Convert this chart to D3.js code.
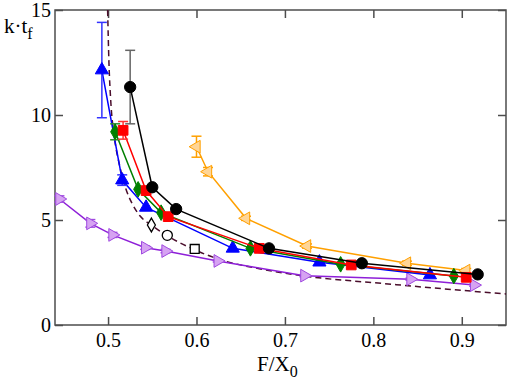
<!DOCTYPE html>
<html>
<head>
<meta charset="utf-8">
<script src="https://cdn.jsdelivr.net/npm/d3@7"></script>
<style>
  body { margin: 0; background: #fff; }
  svg text { font-family: "Liberation Serif", "Times New Roman", serif; }
</style>
</head>
<body>
<svg width="510" height="381"></svg>
<script>
// data
const blackX = [0.525, 0.550, 0.577, 0.682, 0.787, 0.918];
const blackY = [11.33, 6.56, 5.52, 3.65, 2.94, 2.41];
const blackErr = [1.75, 0, 0, 0, 0, 0];

const redX = [0.517, 0.543, 0.568, 0.671, 0.775, 0.905];
const redY = [9.27, 6.40, 5.16, 3.65, 2.86, 2.27];
const redErr = [0.42, 0, 0, 0, 0, 0];

const greenX = [0.508, 0.534, 0.560, 0.661, 0.763, 0.891];
const greenY = [9.2, 6.46, 5.35, 3.65, 2.89, 2.33];
const greenErr = [0.38, 0, 0, 0, 0, 0];

const blueX = [0.493, 0.516, 0.543, 0.641, 0.739, 0.864];
const blueY = [12.14, 6.9, 5.6, 3.65, 2.99, 2.38];
const blueErr = [2.27, 0.25, 0, 0, 0, 0];

const orangeX = [0.600, 0.613, 0.656, 0.725, 0.838, 0.905];
const orangeY = [8.49, 7.3, 5.08, 3.76, 2.94, 2.59];
const orangeErr = [0.5, 0.2, 0.1, 0.1, 0.1, 0.1];

const purpleX = [0.445, 0.480, 0.505, 0.542, 0.565, 0.624, 0.722, 0.842, 0.914];
const purpleY = [6.0, 4.84, 4.29, 3.68, 3.52, 3.05, 2.35, 2.18, 1.9];
const purpleErr = [0.15, 0.18, 0.12, 0.08, 0.08, 0.05, 0.05, 0.05, 0.05];

const openX = [0.549, 0.567, 0.598];
const openY = [4.76, 4.27, 3.62];
const openShape = ["diamond", "circle", "square"];

const curveX = [0.4995, 0.501, 0.503, 0.507, 0.513, 0.520, 0.527, 0.536, 0.549, 0.567, 0.597, 0.626, 0.671, 0.728, 0.81, 0.88, 0.95];
const curveY = [15, 12.5, 10.7, 9.0, 7.6, 6.5, 5.8, 5.2, 4.76, 4.25, 3.6, 3.12, 2.68, 2.3, 1.98, 1.72, 1.48];

const xTicks = [0.5, 0.6, 0.7, 0.8, 0.9];
const yTicks = [0, 5, 10, 15];

const serif = "Liberation Serif, Times New Roman, serif";

// layout
const margin = {top: 10, right: 4, bottom: 56, left: 55},
    width = 510 - margin.left - margin.right,
    height = 381 - margin.top - margin.bottom;

const svg = d3.select("svg")
  .append("g")
    .attr("transform", `translate(${margin.left},${margin.top})`);

const x = d3.scaleLinear().domain([0.44, 0.95]).range([0, width]);
const y = d3.scaleLinear().domain([0, 15]).range([height, 0]);

const frameColor = "#4d4d4d";

// axes (ticks pointing in, on all four sides)
function styleAxis(g) {
  g.attr("font-family", serif).attr("font-size", 20);
  g.select(".domain").remove();
  g.selectAll(".tick line").attr("stroke", frameColor).attr("stroke-width", 1.5);
  g.selectAll(".tick text").attr("fill", "#000");
}

svg.append("g")
  .attr("transform", `translate(0,${height})`)
  .call(d3.axisBottom(x).tickValues(xTicks).tickFormat(d3.format(".1f"))
    .tickSizeInner(-8).tickSizeOuter(0).tickPadding(8))
  .call(styleAxis);

svg.append("g")
  .call(d3.axisTop(x).tickValues(xTicks).tickFormat("")
    .tickSizeInner(-8).tickSizeOuter(0))
  .call(styleAxis);

svg.append("g")
  .call(d3.axisLeft(y).tickValues(yTicks).tickFormat(d3.format("d"))
    .tickSizeInner(-8).tickSizeOuter(0).tickPadding(4))
  .call(styleAxis);

svg.append("g")
  .attr("transform", `translate(${width},0)`)
  .call(d3.axisRight(y).tickValues(yTicks).tickFormat("")
    .tickSizeInner(-8).tickSizeOuter(0))
  .call(styleAxis);

svg.append("rect")
  .attr("width", width).attr("height", height)
  .attr("fill", "none").attr("stroke", frameColor).attr("stroke-width", 1.5);

svg.append("clipPath").attr("id", "plot-clip")
  .append("rect").attr("width", width).attr("height", height);

// dashed curve
const line = d3.line().x(d => x(d[0])).y(d => y(d[1]));
svg.append("path")
  .datum(d3.zip(curveX, curveY))
  .attr("clip-path", "url(#plot-clip)")
  .attr("fill", "none")
  .attr("stroke", "#4a0e2c")
  .attr("stroke-width", 1.5)
  .attr("stroke-dasharray", "6,4")
  .attr("d", line.curve(d3.curveMonotoneX));

const plainLine = d3.line().x(d => x(d[0])).y(d => y(d[1]));

function drawSeries(xs, ys, errs, opts) {
  const pts = xs.map((v, i) => ({x: v, y: ys[i], e: errs[i]}));
  const g = svg.append("g");
  g.append("path")
    .datum(pts.map(p => [p.x, p.y]))
    .attr("fill", "none")
    .attr("stroke", opts.line)
    .attr("stroke-width", 1.5)
    .attr("d", plainLine);

  const eb = g.selectAll(".err").data(pts.filter(p => p.e > 0)).join("g")
    .attr("stroke", opts.err).attr("stroke-width", 1.5);
  eb.append("line")
    .attr("x1", d => x(d.x)).attr("x2", d => x(d.x))
    .attr("y1", d => y(d.y - d.e)).attr("y2", d => y(d.y + d.e));
  eb.append("line")
    .attr("x1", d => x(d.x) - 5).attr("x2", d => x(d.x) + 5)
    .attr("y1", d => y(d.y + d.e)).attr("y2", d => y(d.y + d.e));
  eb.append("line")
    .attr("x1", d => x(d.x) - 5).attr("x2", d => x(d.x) + 5)
    .attr("y1", d => y(d.y - d.e)).attr("y2", d => y(d.y - d.e));

  g.selectAll(".mk").data(pts).join("path")
    .attr("transform", d => `translate(${x(d.x)},${y(d.y)}) rotate(${opts.rot || 0})`)
    .attr("d", d3.symbol().type(opts.symbol).size(opts.size))
    .attr("fill", opts.fill)
    .attr("stroke", opts.stroke)
    .attr("stroke-width", opts.sw || 1);
}

drawSeries(purpleX, purpleY, purpleErr, {line: "#8e1fd8", err: "#a04ae0", symbol: d3.symbolTriangle, rot: 90,
  size: 70, fill: "#d6a3f2", stroke: "#a04ae0", sw: 1});
drawSeries(orangeX, orangeY, orangeErr, {line: "#ffa000", err: "#ffa000", symbol: d3.symbolTriangle, rot: -90,
  size: 70, fill: "#ffd596", stroke: "#ffa000", sw: 1});
drawSeries(blueX, blueY, blueErr, {line: "#0000ff", err: "#3333ff", symbol: d3.symbolTriangle,
  size: 75, fill: "#0000ff", stroke: "#0000ff"});
drawSeries(greenX, greenY, greenErr, {line: "#007f00", err: "#2e8b2e", symbol: d3.symbolDiamond,
  size: 70, fill: "#008000", stroke: "#008000"});
drawSeries(redX, redY, redErr, {line: "#ff0000", err: "#ff3333", symbol: d3.symbolSquare,
  size: 95, fill: "#ff0000", stroke: "#ff0000"});
drawSeries(blackX, blackY, blackErr, {line: "#000", err: "#666", symbol: d3.symbolCircle,
  size: 100, fill: "#000", stroke: "#000"});

// open markers on the dashed curve
const shapeMap = {diamond: d3.symbolDiamond, circle: d3.symbolCircle, square: d3.symbolSquare};
svg.selectAll(".open").data(openX.map((v, i) => ({x: v, y: openY[i], s: openShape[i]}))).join("path")
  .attr("transform", d => `translate(${x(d.x)},${y(d.y)})`)
  .attr("d", d => d3.symbol().type(shapeMap[d.s]).size(d.s === "diamond" ? 55 : 80)())
  .attr("fill", "#fff")
  .attr("stroke", "#000")
  .attr("stroke-width", 1.3);

// axis titles
const root = d3.select("svg");
const xt = root.append("text")
  .attr("x", 257).attr("y", 371)
  .attr("font-family", serif)
  .attr("font-size", 21);
xt.append("tspan").text("F/X");
xt.append("tspan").attr("dy", 6).attr("font-size", 16).text("0");

const yt = root.append("text")
  .attr("x", 4).attr("y", 33)
  .attr("font-family", serif)
  .attr("font-size", 21);
yt.append("tspan").text("k·t");
yt.append("tspan").attr("dy", 6).attr("font-size", 16).text("f");
</script>
</body>
</html>
